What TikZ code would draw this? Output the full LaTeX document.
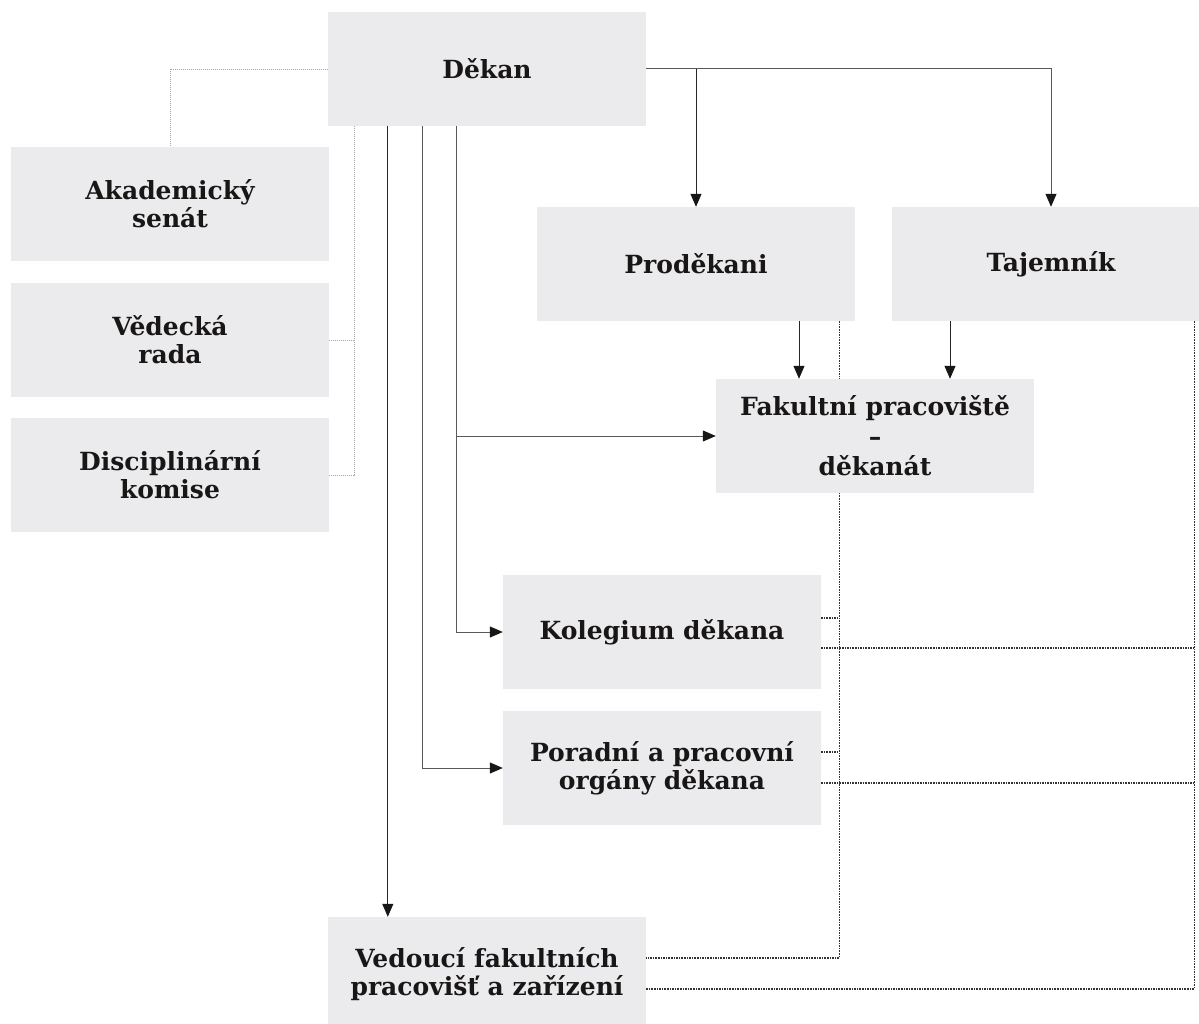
\documentclass[tikz,border=0pt]{standalone}
\usepackage{fontspec}
\setmainfont{DejaVu Serif}
\usetikzlibrary{arrows.meta}
\pgfdeclarelayer{bg}
\pgfsetlayers{bg,main}
\definecolor{boxfill}{RGB}{235,235,237}
\definecolor{txt}{RGB}{25,22,22}
\begin{document}
\begin{tikzpicture}[x=1pt,y=-1pt,
  box/.style={fill=boxfill, minimum width=318pt, minimum height=114pt, inner sep=0pt,
    align=center, font=\fontsize{25}{28}\selectfont\bfseries, text=txt},
  link/.style={draw=black!65, line width=1pt},
  arr/.style={link, -{Triangle[length=13pt,width=11pt,fill=txt,color=txt]}},
  dotdark/.style={draw=black!80, line width=1.1pt, dash pattern=on 1.6pt off 1pt},
  dotlight/.style={draw=black!35, line width=0.9pt, dash pattern=on 1pt off 1pt}]
\useasboundingbox (0,0) rectangle (1199,1024);

\node[box] (dekan) at (487,69) {Děkan};
\node[box] (senat) at (170,204) {Akademický\\senát};
\node[box] (rada) at (170,340) {Vědecká\\rada};
\node[box] (komise) at (170,475) {Disciplinární\\komise};
\node[box] (prodekani) at (696,264) {Proděkani};
\node[box] (tajemnik) at (1051,264) {Tajemník};
\node[box, font=\fontsize{25}{30}\selectfont\bfseries] (fakultni) at (875,436) {Fakultní pracoviště\\–\\děkanát};
\node[box] (kolegium) at (662,632) {Kolegium děkana};
\node[box] (poradni) at (662,768) {Poradní a pracovní\\orgány děkana};
\node[box] (vedouci) at (487,974) {Vedoucí fakultních\\pracovišť a zařízení};

\coordinate (d0) at ([xshift=27pt]dekan.south west);
\coordinate (d1) at ([xshift=60pt]dekan.south west);
\coordinate (d2) at ([xshift=95pt]dekan.south west);
\coordinate (d3) at ([xshift=129pt]dekan.south west);
\coordinate (p1) at ([xshift=103pt]prodekani.south);
\coordinate (t1) at ([xshift=-101pt]tajemnik.south);
\coordinate (pr) at ([xshift=-16pt]prodekani.south east);
\coordinate (tr) at ([xshift=-16pt]tajemnik.south east);
\coordinate (v1) at ([yshift=16pt]vedouci.east);
\coordinate (v2) at ([yshift=-15pt]vedouci.east);
\coordinate (k1) at ([yshift=14pt]kolegium.east);
\coordinate (k2) at ([yshift=-16pt]kolegium.east);
\coordinate (r1) at ([yshift=16pt]poradni.east);
\coordinate (r2) at ([yshift=-15pt]poradni.east);

\begin{pgfonlayer}{bg}
% solid connectors
\draw[arr] (dekan.east) -| (tajemnik.north);
\draw[arr, draw=black!85] (dekan.east -| prodekani.north) -- (prodekani.north);
\draw[arr, draw=black!85] (d1) -- ([xshift=60pt]vedouci.north west);
\draw[arr] (d2) |- (poradni.west);
\draw[arr] (d3) |- (kolegium.west);
\draw[arr] (d3 |- fakultni.west) -- (fakultni.west);
\draw[arr, draw=black!85] (p1) -- (p1 |- fakultni.north);
\draw[arr, draw=black!85] (t1) -- (t1 |- fakultni.north);
% light dotted (left)
\draw[dotlight] (dekan.west) -| (senat.north);
\draw[dotlight] (d0) |- (komise.east);
\draw[dotlight] (rada.east) -- (rada.east -| d0);
% dark dotted (right)
\draw[dotdark] (pr) |- (v1);
\draw[dotdark] (k1) -- (k1 -| pr);
\draw[dotdark] (r1) -- (r1 -| pr);
\draw[dotdark] (tr) |- (v2);
\draw[dotdark] (k2) -- (k2 -| tr);
\draw[dotdark] (r2) -- (r2 -| tr);
\end{pgfonlayer}
\end{tikzpicture}
\end{document}
